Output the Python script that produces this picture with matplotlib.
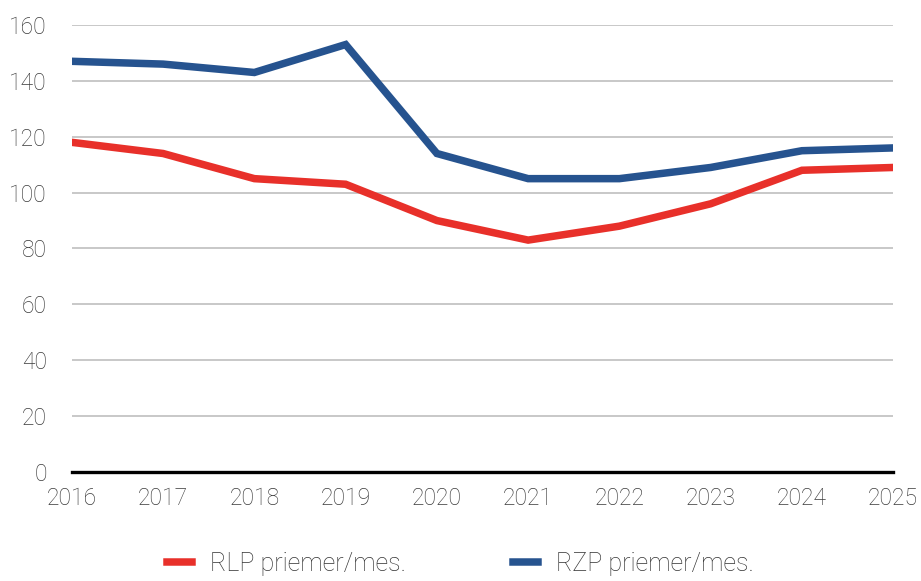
import matplotlib.pyplot as plt
import numpy as np

years = [2016, 2017, 2018, 2019, 2020, 2021, 2022, 2023, 2024, 2025]
rlp = [118, 114, 105, 103, 90, 83, 88, 96, 108, 109]
rzp = [147, 146, 143, 153, 114, 105, 105, 109, 115, 116]
labels = ['RLP priemer/mes.', 'RZP priemer/mes.']

plt.rcParams['font.family'] = ['Roboto', 'DejaVu Sans']

fig = plt.figure(figsize=(9.21, 5.81), dpi=100)
ax = fig.add_axes([0.078, 0.1876, 0.8918, 0.7694])

ax.plot(years, rlp, color='#e8302a', lw=5.4, label=labels[0], solid_joinstyle='miter')
ax.plot(years, rzp, color='#26538f', lw=5.4, label=labels[1], solid_joinstyle='miter')

ax.set_xlim(2016, 2025)
ax.set_ylim(0, 160)
ax.set_yticks(np.arange(0, 161, 20))
ax.set_xticks(years)
ax.grid(axis='y', color='#c4c4c4', lw=1.3)
ax.set_axisbelow(True)
for s in ['top', 'right', 'left']:
    ax.spines[s].set_visible(False)
ax.spines['bottom'].set_linewidth(2.4)
ax.spines['bottom'].set_color('black')
ax.spines['bottom'].set_zorder(5)
ax.tick_params(axis='both', length=0, labelsize=16.5, labelcolor='#3a3a3a')
ax.tick_params(axis='y', pad=18)
ax.tick_params(axis='x', pad=11)
for t in ax.get_xticklabels() + ax.get_yticklabels():
    t.set_fontweight('light')

leg = fig.legend(loc='lower center', bbox_to_anchor=(0.5, 0.0), ncol=2, frameon=False,
                 handlelength=1.0, columnspacing=4.3, handletextpad=0.7,
                 borderaxespad=0.1, borderpad=0.1,
                 prop={'weight': 'light', 'size': 18})
for t in leg.get_texts():
    t.set_color('#333333')

fig.savefig('out.png', dpi=100)
